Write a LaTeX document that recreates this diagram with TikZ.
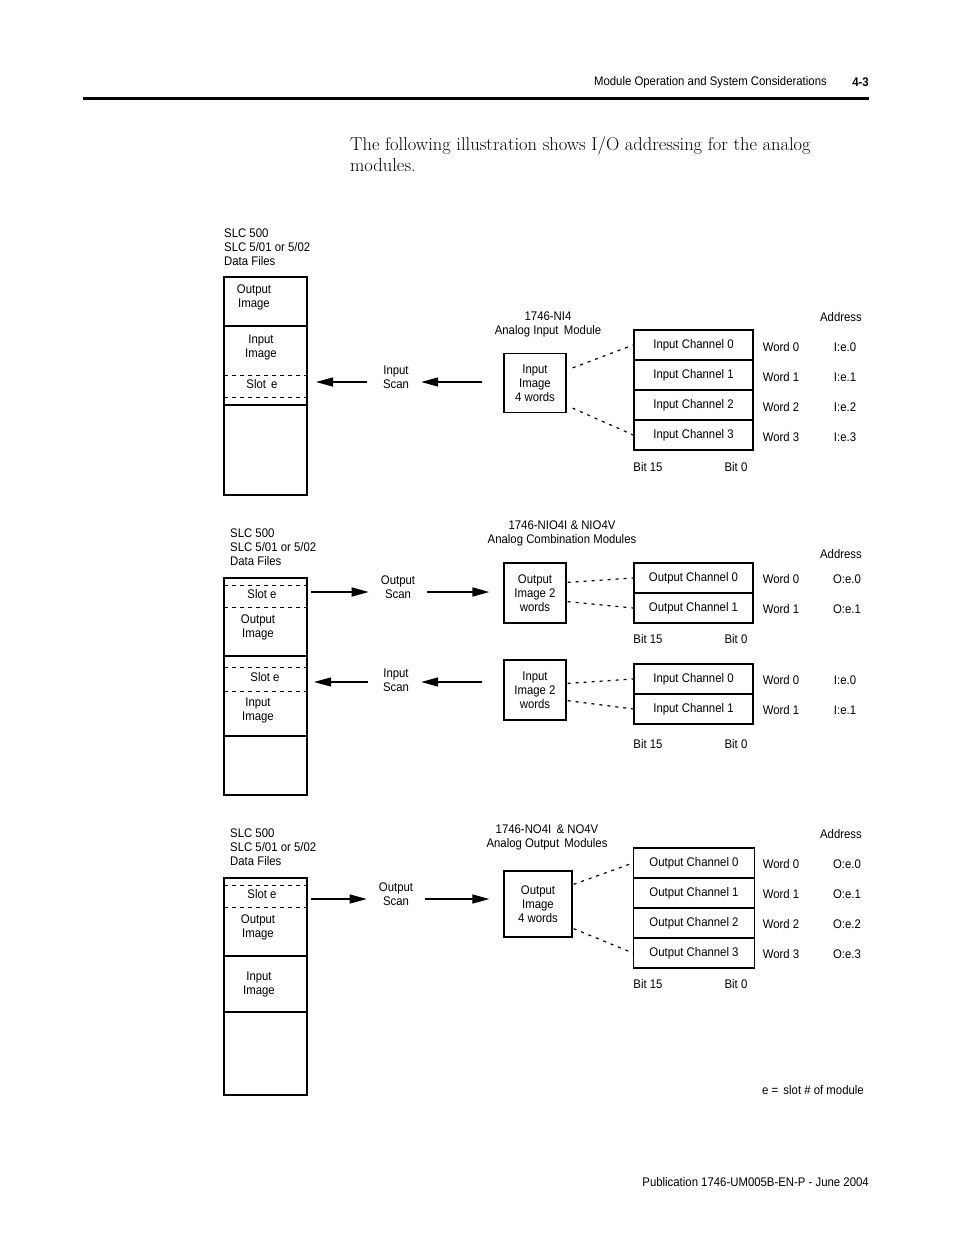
\documentclass[tikz,border=0pt]{standalone}
\usepackage{fontspec}
\newfontfamily\diagfont[FakeStretch=0.91]{Liberation Sans}
\usetikzlibrary{arrows.meta}

\begin{document}
\begin{tikzpicture}[x=1pt,y=-1pt,font=\diagfont\fontsize{12.5}{14}\selectfont,
  chan/.style={draw,line width=1.3pt,minimum width=119pt,minimum height=30pt,inner sep=0pt},
  modbox/.style={draw,line width=1.3pt,minimum width=62pt,minimum height=60pt,align=center,inner sep=0pt},
  scan/.style={-{Triangle[length=17pt,width=9pt]},line width=1.2pt},
  scanlbl/.style={align=center,inner xsep=12pt,inner ysep=0pt},
  leader/.style={dash pattern=on 3pt off 5pt,line width=1.2pt},
  files/.style={line width=1.8pt},
  slotline/.style={dash pattern=on 4pt off 4pt,line width=0.9pt},
  lbl/.style={align=left,anchor=west,inner sep=0pt},
  body/.style={anchor=base west,inner sep=0pt,font=\rmfamily\fontsize{18.5}{21}\selectfont}]
\useasboundingbox (0,0) rectangle (954,1235);

% page header and text
\node[anchor=east,inner sep=0pt] (hdr) at (827,82) {Module Operation and System Considerations};
\node[anchor=east,inner sep=0pt,font=\diagfont\bfseries\fontsize{12.5}{14}\selectfont] (pg) at (869,82) {4-3};
\draw[line width=3pt] (83,98) -- (869,98);
\node[body] (txt1) at (350,150) {The following illustration shows I/O addressing for the analog};
\node[body] (txt2) at (350,171) {modules.};

% 1746-NI4
\node[lbl] (df1) at (224,247) {SLC 500\\SLC 5/01 or 5/02\\Data Files};
\draw[files] (224,277) rectangle (307,495);
\draw[files] (224,326) -- (307,326) (224,405) -- (307,405);
\draw[slotline] (224,375) -- (307,375) (224,397) -- (307,397);
\node[align=center] (oi1) at (254,297) {Output\\Image};
\node[align=center] (ii1) at (261,347) {Input\\Image};
\node (se1) at (262,384) {Slot\, e};
\coordinate (sl1) at (316,382);
\node[scanlbl] (sc1) at (396,377) {Input\\Scan};
\node[modbox,minimum height=59pt] (ni4) at (535,383) {Input\\Image\\4 words};
\node[align=center] (t1) at (548,324) {1746-NI4\\Analog Input\, Module};
\node (ad1) at (841,317) {Address};
\foreach \i in {0,...,3}{
  \node[chan] (nic\i) at (693.5,345+30*\i) {Input Channel \i};
  \node (niw\i) at (781,347+30*\i) {Word \i};
  \node (nia\i) at (845,347+30*\i) {I:e.\i};
}
\node (b1a) at (648,467) {Bit 15};
\node (b1b) at (736,467) {Bit 0};
\draw[scan,shorten <=4pt] (sc1.west |- sl1) -- (sl1);
\draw[scan,shorten <=21pt] (ni4.west |- sl1) -- (sc1.east |- sl1);
\draw[leader] ([shift={(6,15)}]ni4.north east) -- (nic0.west);
\draw[leader] ([shift={(6,-5)}]ni4.south east) -- (nic3.west);

% 1746-NIO4I & NIO4V
\node[lbl] (df2) at (230,547) {SLC 500\\SLC 5/01 or 5/02\\Data Files};
\draw[files] (224,578) rectangle (307,795);
\draw[files] (224,656) -- (307,656) (224,736) -- (307,736);
\draw[slotline] (224,585) -- (307,585) (224,607) -- (307,607)
  (224,667) -- (307,667) (224,691) -- (307,691);
\node (se2) at (262,594) {Slot e};
\node[align=center] (oi2) at (258,627) {Output\\Image};
\node (se3) at (265,677) {Slot e};
\node[align=center] (ii2) at (258,710) {Input\\Image};
\coordinate (sl2) at (311,592);
\coordinate (sl3) at (314,682);
\node[scanlbl] (sc2) at (398,587) {Output\\Scan};
\node[scanlbl] (sc3) at (396,680) {Input\\Scan};
\node[modbox] (cmo) at (535,593) {Output\\Image 2\\words};
\node[modbox] (cmi) at (535,690) {Input\\Image 2\\words};
\node[align=center] (t2) at (562,533) {1746-NIO4I \& NIO4V\\Analog Combination Modules};
\node (ad2) at (841,554) {Address};
\foreach \i in {0,1}{
  \node[chan] (coc\i) at (693.5,578+30*\i) {Output Channel \i};
  \node (cow\i) at (781,579+30*\i) {Word \i};
  \node (coa\i) at (847,579+30*\i) {O:e.\i};
  \node[chan] (cic\i) at (693.5,679+30*\i) {Input Channel \i};
  \node (ciw\i) at (781,680+30*\i) {Word \i};
  \node (cia\i) at (845,680+30*\i) {I:e.\i};
}
\node (b2a) at (648,639) {Bit 15};
\node (b2b) at (736,639) {Bit 0};
\node (b3a) at (648,744) {Bit 15};
\node (b3b) at (736,744) {Bit 0};
\draw[scan,line width=1.8pt] (sl2) -- (sl2 -| sc2.west);
\draw[scan,line width=1.8pt,shorten >=14pt] (sc2.east |- sl2) -- (cmo.west |- sl2);
\draw[scan,shorten <=3pt] (sc3.west |- sl3) -- (sl3);
\draw[scan,shorten <=21pt] (cmi.west |- sl3) -- (sc3.east |- sl3);
\draw[leader] ([shift={(1,20)}]cmo.north east) -- (coc0.west);
\draw[leader] ([shift={(1,-22)}]cmo.south east) -- (coc1.west);
\draw[leader] ([shift={(1,24)}]cmi.north east) -- (cic0.west);
\draw[leader] ([shift={(1,-20)}]cmi.south east) -- (cic1.west);

% 1746-NO4I & NO4V
\node[lbl] (df3) at (230,847) {SLC 500\\SLC 5/01 or 5/02\\Data Files};
\draw[files] (224,878) rectangle (307,1095);
\draw[files] (224,956) -- (307,956) (224,1012) -- (307,1012);
\draw[slotline] (224,885) -- (307,885) (224,907) -- (307,907);
\node (se4) at (262,894) {Slot e};
\node[align=center] (oi3) at (258,927) {Output\\Image};
\node[align=center] (ii3) at (259,984) {Input\\Image};
\coordinate (sl4) at (311,899);
\node[scanlbl] (sc4) at (396,894) {Output\\Scan};
\node[modbox,minimum width=68pt,minimum height=66pt] (no4) at (538,904) {Output\\Image\\4 words};
\node[align=center] (t3) at (547,837) {1746-NO4I\, \& NO4V\\Analog Output\, Modules};
\node (ad3) at (841,834) {Address};
\foreach \i in {0,...,3}{
  \node[chan,minimum width=121pt] (noc\i) at (694,863+30*\i) {Output Channel \i};
  \node (now\i) at (781,864+30*\i) {Word \i};
  \node (noa\i) at (847,864+30*\i) {O:e.\i};
}
\node (b4a) at (648,984) {Bit 15};
\node (b4b) at (736,984) {Bit 0};
\draw[scan] (sl4) -- (sl4 -| sc4.west);
\draw[scan,shorten >=14pt] (sc4.east |- sl4) -- (no4.west |- sl4);
\draw[leader] ([shift={(1,14)}]no4.north east) -- (noc0.west);
\draw[leader] ([shift={(1,-9)}]no4.south east) -- (noc3.west);

% notes and footer
\node[anchor=east,inner sep=0pt] (note) at (864,1090) {e =\, slot \# of module};
\node[anchor=east,inner sep=0pt] (pub) at (869,1182) {Publication 1746-UM005B-EN-P - June 2004};
\end{tikzpicture}
\end{document}
